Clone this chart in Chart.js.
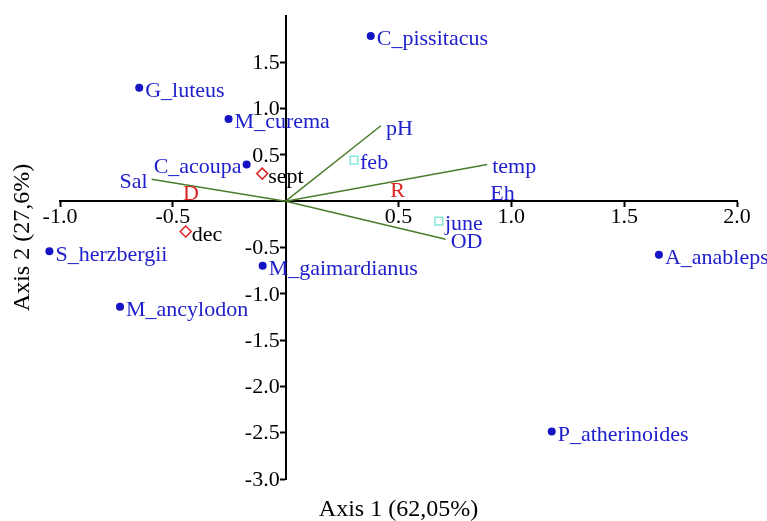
<!DOCTYPE html>
<html>
<head>
<meta charset="utf-8">
<script src="https://cdn.jsdelivr.net/npm/chart.js@4.4.1/dist/chart.umd.min.js"></script>
<style>
  html, body { margin: 0; padding: 0; background: #ffffff; }
  #wrap { width: 767px; height: 521px; }
</style>
</head>
<body>
<div id="wrap"><canvas id="c" width="767" height="521"></canvas></div>
<script>
// Species scores
const speciesNames = ['C_pissitacus', 'G_luteus', 'M_curema', 'C_acoupa', 'S_herzbergii',
  'M_gaimardianus', 'M_ancylodon', 'A_anableps', 'P_atherinoides'];
const speciesX = [0.377, -0.649, -0.253, -0.173, -1.047, -0.102, -0.734, 1.654, 1.179];
const speciesY = [1.783, 1.226, 0.887, 0.397, -0.541, -0.698, -1.140, -0.577, -2.486];
// names written on the left side of their mark
const leftSideNames = ['C_acoupa'];

// Sampling months
const dryMonthNames = ['sept', 'dec'];
const dryMonthX = [-0.104, -0.443];
const dryMonthY = [0.298, -0.327];
const wetMonthNames = ['feb', 'june'];
const wetMonthX = [0.303, 0.679];
const wetMonthY = [0.444, -0.216];

// Environmental vectors (from origin)
const envNames = ['Sal', 'pH', 'temp', 'OD'];
const envX = [-0.594, 0.422, 0.893, 0.709];
const envY = [0.237, 0.815, 0.397, -0.412];

// Nominal variable centroids and other variable labels
const seasonNames = ['D', 'R'];
const seasonX = [-0.420, 0.496];
const seasonY = [0.076, 0.106];
const otherVarNames = ['Eh'];
const otherVarX = [0.961];
const otherVarY = [0.073];

// Axis ticks and titles
const xTicks = [-1.0, -0.5, 0.5, 1.0, 1.5, 2.0];
const yTicks = [-3.0, -2.5, -2.0, -1.5, -1.0, -0.5, 0.5, 1.0, 1.5];
const xTitle = 'Axis 1 (62,05%)';
const yTitle = 'Axis 2 (27,6%)';

const FONT = '"Liberation Serif", "Times New Roman", serif';
const BLUE_TEXT = '#2020cc';
const BLUE_DOT = '#1414c4';
const GREEN = '#4c7c2e';
const RED = '#dd2424';
const CYAN = '#84e6d8';

const toPoints = (xs, ys) => xs.map((x, i) => ({ x, y: ys[i] }));
const fmt = (v) => Number(v).toFixed(1);

const datasets = [];
envNames.forEach((name, i) => {
  datasets.push({
    data: [{ x: 0, y: 0 }, { x: envX[i], y: envY[i] }],
    showLine: true,
    borderColor: GREEN,
    borderWidth: 1.5,
    pointRadius: 0,
    clip: false,
    names: [name], kind: 'vector', labelColor: BLUE_TEXT
  });
});
datasets.push({
  data: toPoints(speciesX, speciesY),
  pointStyle: 'circle', pointRadius: 4, pointHoverRadius: 16,
  backgroundColor: BLUE_DOT, borderColor: BLUE_DOT, borderWidth: 0,
  clip: false,
  names: speciesNames, kind: 'point', labelColor: BLUE_TEXT
});
datasets.push({
  data: toPoints(dryMonthX, dryMonthY),
  pointStyle: 'rectRot', pointRadius: 5.5,
  backgroundColor: 'rgba(255,255,255,0)', borderColor: RED, borderWidth: 1.5,
  clip: false,
  names: dryMonthNames, kind: 'point', labelColor: '#000000'
});
datasets.push({
  data: toPoints(wetMonthX, wetMonthY),
  pointStyle: 'rect', pointRadius: 5.5,
  backgroundColor: 'rgba(255,255,255,0)', borderColor: CYAN, borderWidth: 1.5,
  clip: false,
  names: wetMonthNames, kind: 'point', labelColor: BLUE_TEXT
});
datasets.push({
  data: toPoints(seasonX, seasonY),
  pointRadius: 0, clip: false,
  names: seasonNames, kind: 'center', labelColor: RED
});
datasets.push({
  data: toPoints(otherVarX, otherVarY),
  pointRadius: 0, clip: false,
  names: otherVarNames, kind: 'center', labelColor: BLUE_TEXT
});

// Writes species, month and variable names next to their marks,
// the vertical axis tick labels (left of the centred axis) and the axis titles
const ordinationLabels = {
  id: 'ordinationLabels',
  afterDatasetsDraw(chart) {
    const ctx = chart.ctx;
    ctx.save();
    ctx.font = '22px ' + FONT;
    ctx.textBaseline = 'middle';
    chart.data.datasets.forEach((ds, i) => {
      const meta = chart.getDatasetMeta(i);
      ctx.fillStyle = ds.labelColor;
      if (ds.kind === 'point') {
        meta.data.forEach((el, j) => {
          const name = ds.names[j];
          if (leftSideNames.includes(name)) {
            ctx.textAlign = 'right';
            ctx.fillText(name, el.x - 5, el.y + 3);
          } else {
            ctx.textAlign = 'left';
            ctx.fillText(name, el.x + 6, el.y + 3.5);
          }
        });
      } else if (ds.kind === 'vector') {
        const el = meta.data[1];
        const toLeft = ds.data[1].x < 0;
        ctx.textAlign = toLeft ? 'right' : 'left';
        ctx.fillText(ds.names[0], el.x + (toLeft ? -4 : 5), el.y + 3);
      } else if (ds.kind === 'center') {
        ctx.textAlign = 'center';
        meta.data.forEach((el, j) => ctx.fillText(ds.names[j], el.x, el.y));
      }
    });

    const xs = chart.scales.x, ys = chart.scales.y;
    const axisX = xs.getPixelForValue(0);
    ctx.fillStyle = '#000000';
    ctx.textAlign = 'right';
    ys.ticks.forEach(t => ctx.fillText(fmt(t.value), axisX - 6, ys.getPixelForValue(t.value) + 1));

    ctx.font = '24px ' + FONT;
    ctx.textAlign = 'center';
    ctx.textBaseline = 'alphabetic';
    const area = chart.chartArea;
    ctx.fillText(xTitle, (area.left + area.right) / 2, 516);
    ctx.translate(29, 237.5);
    ctx.rotate(-Math.PI / 2);
    ctx.fillText(yTitle, 0, 0);
    ctx.restore();
  }
};

const axisCommon = (ticksList, showLabels) => ({
  type: 'linear',
  afterBuildTicks: (scale) => { scale.ticks = ticksList.map(v => ({ value: v })); },
  border: { display: true, color: '#000000', width: 2 },
  grid: { display: true, drawOnChartArea: false, drawTicks: true, tickLength: 5, tickWidth: 2, tickColor: '#000000' },
  ticks: {
    display: showLabels,
    color: '#000000',
    font: { family: FONT, size: 22 },
    padding: -2,
    callback: fmt
  }
});

new Chart(document.getElementById('c'), {
  type: 'scatter',
  data: { datasets },
  options: {
    responsive: false,
    animation: false,
    events: [],
    devicePixelRatio: 1,
    layout: { padding: { left: 60, right: 30, top: 12, bottom: 42 } },
    plugins: { legend: { display: false }, tooltip: { enabled: false }, title: { display: false } },
    scales: {
      x: Object.assign(axisCommon(xTicks, true), { min: -1.0, max: 2.0, position: { y: 0 } }),
      y: Object.assign(axisCommon(yTicks, false), { min: -3.0, max: 2.0, position: { x: 0 } })
    }
  },
  plugins: [ordinationLabels]
});
</script>
</body>
</html>
